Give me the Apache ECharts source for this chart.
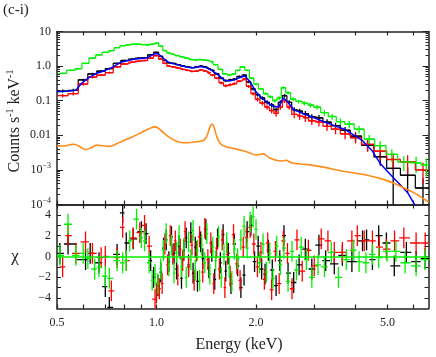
<!DOCTYPE html>
<html>
<head>
<meta charset="utf-8">
<script src="https://cdn.jsdelivr.net/npm/echarts@6/dist/echarts.min.js"></script>
<style>
html, body { margin: 0; padding: 0; background: #fff; }
#main { width: 436px; height: 357px; }
</style>
</head>
<body>
<div id="main"></div>
<script>
// bins shared by the black and red spectra (keV)
var binE = [0.52, 0.56, 0.60, 0.64, 0.68, 0.72, 0.76, 0.80, 0.84, 0.88,
    0.92, 0.96, 1.00, 1.03, 1.06, 1.09, 1.12, 1.16, 1.20, 1.24,
    1.28, 1.32, 1.36, 1.40, 1.44, 1.48, 1.52, 1.57, 1.62, 1.67,
    1.72, 1.78, 1.84, 1.90, 1.96, 2.02, 2.09, 2.16, 2.23, 2.30,
    2.37, 2.44, 2.52, 2.61, 2.71, 2.82, 2.95, 3.10, 3.28, 3.48,
    3.72, 4.00, 4.35, 4.75, 5.20, 5.75, 6.40];
var blackFlux = [0.19, 0.20, 0.40, 0.60, 0.72, 0.85, 1.2, 1.45, 1.6, 1.7,
    1.75, 2.1, 2.5, 1.9, 1.45, 1.25, 1.2, 1.1, 1.0, 0.95,
    0.9, 0.95, 1.0, 0.95, 0.85, 0.75, 0.6, 0.45, 0.38, 0.40,
    0.42, 0.50, 0.55, 0.35, 0.22, 0.15, 0.12, 0.09, 0.075, 0.055,
    0.09, 0.14, 0.09, 0.055, 0.05, 0.042, 0.034, 0.032, 0.024, 0.019,
    0.014, 0.0095, 0.0052, 0.0024, 0.0011, 0.0007, 0.0003];
var blackErr = [0.1, 0.1, 0.08, 0.07, 0.06, 0.06, 0.05, 0.05, 0.05, 0.05,
    0.05, 0.05, 0.04, 0.05, 0.05, 0.05, 0.05, 0.05, 0.05, 0.05,
    0.05, 0.05, 0.05, 0.05, 0.06, 0.06, 0.07, 0.08, 0.08, 0.08,
    0.08, 0.07, 0.07, 0.08, 0.1, 0.12, 0.12, 0.14, 0.15, 0.15,
    0.14, 0.12, 0.14, 0.18, 0.18, 0.2, 0.2, 0.2, 0.22, 0.22,
    0.25, 0.3, 0.35, 0.45, 1.0, 0.7, 0.9];
var redFlux = [0.14, 0.16, 0.30, 0.48, 0.55, 0.65, 0.95, 1.15, 1.3, 1.4,
    1.45, 1.7, 2.0, 1.6, 1.2, 1.0, 0.95, 0.88, 0.8, 0.75,
    0.7, 0.72, 0.78, 0.72, 0.65, 0.55, 0.45, 0.33, 0.27, 0.29,
    0.31, 0.37, 0.42, 0.26, 0.16, 0.11, 0.085, 0.065, 0.052, 0.043,
    0.065, 0.10, 0.065, 0.04, 0.036, 0.032, 0.026, 0.024, 0.018, 0.015,
    0.011, 0.0085, 0.0055, 0.0035, 0.0020, 0.0017, 0.0010];
var redErr = [0.12, 0.12, 0.1, 0.08, 0.07, 0.07, 0.06, 0.06, 0.06, 0.06,
    0.06, 0.05, 0.05, 0.06, 0.06, 0.06, 0.06, 0.06, 0.06, 0.06,
    0.06, 0.06, 0.06, 0.06, 0.07, 0.07, 0.08, 0.09, 0.1, 0.1,
    0.1, 0.08, 0.08, 0.1, 0.12, 0.14, 0.15, 0.16, 0.18, 0.2,
    0.16, 0.14, 0.16, 0.22, 0.22, 0.24, 0.24, 0.25, 0.26, 0.28,
    0.3, 0.32, 0.38, 0.45, 0.5, 0.55, 0.6];

var greenE = [0.52, 0.55, 0.58, 0.61, 0.64, 0.67, 0.70, 0.73, 0.76, 0.79,
    0.82, 0.85, 0.88, 0.91, 0.94, 0.97, 1.00, 1.03, 1.06, 1.09,
    1.12, 1.15, 1.19, 1.23, 1.27, 1.31, 1.35, 1.39, 1.43, 1.47,
    1.51, 1.56, 1.61, 1.66, 1.71, 1.76, 1.82, 1.88, 1.94, 2.00,
    2.07, 2.14, 2.21, 2.28, 2.35, 2.42, 2.50, 2.59, 2.69, 2.80,
    2.92, 3.06, 3.22, 3.40, 3.60, 3.83, 4.10, 4.40, 4.75, 5.15,
    5.60, 6.10, 6.55];
var greenFlux = [0.62, 0.75, 0.85, 1.2, 1.7, 2.1, 2.5, 2.8, 3.4, 3.9,
    4.1, 4.3, 4.3, 4.2, 4.1, 4.3, 4.6, 3.8, 2.8, 2.4,
    2.2, 2.0, 1.85, 1.7, 1.55, 1.5, 1.55, 1.5, 1.45, 1.35,
    1.1, 0.8, 0.6, 0.55, 0.6, 0.75, 0.95, 0.75, 0.45, 0.3,
    0.22, 0.16, 0.13, 0.10, 0.12, 0.24, 0.17, 0.11, 0.095, 0.085,
    0.075, 0.065, 0.045, 0.035, 0.025, 0.021, 0.015, 0.0078, 0.0050, 0.0028,
    0.0017, 0.0016, 0.0014];
var greenErr = [0.06, 0.06, 0.05, 0.05, 0.04, 0.04, 0.04, 0.03, 0.03, 0.03,
    0.03, 0.03, 0.03, 0.03, 0.03, 0.03, 0.03, 0.03, 0.03, 0.03,
    0.03, 0.03, 0.03, 0.03, 0.03, 0.03, 0.03, 0.03, 0.03, 0.04,
    0.04, 0.05, 0.05, 0.05, 0.05, 0.05, 0.05, 0.05, 0.06, 0.07,
    0.08, 0.09, 0.1, 0.12, 0.12, 0.09, 0.1, 0.12, 0.13, 0.14,
    0.15, 0.16, 0.18, 0.2, 0.22, 0.24, 0.26, 0.3, 0.35, 0.4,
    0.45, 0.5, 0.55];

// model curve (blue)
var blueE = [0.50, 0.54, 0.57, 0.59, 0.62, 0.66, 0.70, 0.74, 0.78, 0.82,
    0.86, 0.90, 0.94, 0.98, 1.01, 1.04, 1.08, 1.12, 1.18, 1.24,
    1.30, 1.36, 1.42, 1.48, 1.54, 1.60, 1.66, 1.72, 1.78, 1.85,
    1.92, 2.00, 2.08, 2.16, 2.25, 2.34, 2.42, 2.50, 2.60, 2.72,
    2.86, 3.00, 3.20, 3.45, 3.70, 4.00, 4.20, 4.50, 4.76, 5.00,
    5.20, 5.46, 5.75, 6.00, 6.25];
var blueFlux = [0.18, 0.19, 0.2, 0.3, 0.45, 0.62, 0.75, 0.95, 1.3, 1.45,
    1.6, 1.65, 1.75, 2.2, 2.3, 1.8, 1.35, 1.18, 1.05, 0.93,
    0.9, 0.98, 0.9, 0.72, 0.55, 0.4, 0.37, 0.4, 0.46, 0.52,
    0.35, 0.18, 0.12, 0.09, 0.07, 0.065, 0.12, 0.09, 0.055, 0.046,
    0.038, 0.032, 0.025, 0.019, 0.015, 0.0095, 0.007, 0.0035, 0.0015, 0.0009,
    0.0006, 0.00037, 0.00022, 0.00011, 0.00006];

// background component (orange)
var orangeE = [0.50, 0.53, 0.56, 0.58, 0.61, 0.63, 0.66, 0.69, 0.72, 0.76,
    0.80, 0.85, 0.90, 0.95, 0.99, 1.03, 1.08, 1.14, 1.20, 1.27,
    1.34, 1.39, 1.42, 1.45, 1.47, 1.49, 1.52, 1.56, 1.62, 1.70,
    1.80, 1.90, 2.00, 2.10, 2.20, 2.30, 2.38, 2.46, 2.56, 2.70,
    2.90, 3.20, 3.60, 4.00, 4.40, 4.80, 5.20, 5.60, 6.00, 6.40,
    6.65];
var orangeFlux = [0.0049, 0.005, 0.0055, 0.005, 0.0039, 0.0042, 0.0052, 0.005, 0.0048, 0.0058,
    0.0072, 0.0092, 0.012, 0.0155, 0.0175, 0.014, 0.0095, 0.007, 0.0061, 0.0062,
    0.0066, 0.0072, 0.0095, 0.017, 0.021, 0.018, 0.0095, 0.0058, 0.0047, 0.0042,
    0.0037, 0.0032, 0.0027, 0.0029, 0.0022, 0.0019, 0.0018, 0.0019, 0.0016, 0.0015,
    0.0014, 0.0012, 0.00095, 0.0008, 0.00068, 0.00055, 0.00042, 0.0003, 0.00022, 0.00015,
    0.00012];

// residuals [energy, chi]
var blackResid = [[0.51, 0.3], [0.54, 1.2], [0.61, -0.3], [0.63, 0.3], [0.67, -0.6], [0.70, -2.9],
    [0.72, -4.9], [0.76, 0.2], [0.79, 4.2], [0.81, 1.3], [0.85, 1.7], [0.90, 2.4], [0.93, 2.2],
    [0.96, -0.4], [0.98, -2.0], [1.01, -2.8], [1.03, -1.5], [1.05, 0.8], [1.07, 1.6], [1.09, -0.5],
    [1.11, 1.9], [1.13, 0.3], [1.15, -1.2], [1.17, 1.0], [1.19, -2.1], [1.21, 0.6], [1.23, 1.8],
    [1.25, -0.8], [1.27, 2.3], [1.29, -1.6], [1.31, 0.9], [1.33, -2.4], [1.36, 1.4], [1.38, -0.2],
    [1.41, 2.6], [1.44, -1.1], [1.47, 0.5], [1.50, -2.2], [1.53, 1.7], [1.56, -0.6], [1.59, 2.1],
    [1.62, -1.4], [1.65, 0.3], [1.68, -2.6], [1.72, 1.2], [1.76, -0.9], [1.80, -3.0], [1.84, -1.8],
    [1.88, 2.4], [1.93, 3.0], [1.98, -0.5], [2.03, 1.0], [2.08, -1.2], [2.13, -1.7], [2.18, 0.6],
    [2.24, -1.3], [2.30, -2.8], [2.36, -0.4], [2.43, 2.0], [2.50, -1.6], [2.60, -2.5], [2.70, -0.8],
    [2.82, 0.7], [2.95, -1.2], [3.10, 1.1], [3.25, -0.4], [3.45, -0.7], [3.65, 0.1], [3.90, -0.5],
    [4.20, 1.5], [4.32, 1.6], [4.50, -0.3], [4.70, 2.0], [4.96, 1.3], [5.24, -0.9], [5.70, 0.4],
    [6.10, -0.5], [6.50, -0.2]];
var redResid = [[0.52, -1.0], [0.54, 2.0], [0.57, 0.3], [0.61, 1.4], [0.64, 0.3], [0.68, -0.1],
    [0.70, 0.0], [0.73, -3.3], [0.76, -0.1], [0.79, 2.8], [0.81, -0.4], [0.85, 1.8], [0.89, 2.3],
    [0.92, 3.0], [0.95, 1.0], [0.99, -4.1], [1.00, -3.5], [1.02, -3.1], [1.04, -2.6], [1.06, 1.2],
    [1.08, -0.8], [1.10, 2.0], [1.12, 0.2], [1.14, 1.5], [1.16, -1.8], [1.18, 0.7], [1.20, -0.4],
    [1.22, 2.4], [1.25, -1.0], [1.28, 1.1], [1.30, -2.3], [1.32, 0.5], [1.35, 1.9], [1.38, -1.5],
    [1.40, 2.7], [1.43, -0.3], [1.46, 1.3], [1.49, -2.6], [1.52, 0.8], [1.55, -1.2], [1.58, 1.6],
    [1.61, -3.0], [1.64, 0.2], [1.67, -1.9], [1.71, 2.1], [1.75, -0.7], [1.79, -2.3], [1.83, 0.9],
    [1.87, 1.8], [1.92, 2.8], [1.97, 1.2], [2.02, -1.0], [2.07, 0.4], [2.12, -2.2], [2.17, 1.3],
    [2.23, -3.2], [2.29, 0.5], [2.35, -2.6], [2.42, 1.5], [2.49, 0.3], [2.57, -3.1], [2.66, 1.6],
    [2.76, -1.4], [2.88, 0.6], [3.00, -0.9], [3.15, 1.7], [3.30, 1.5], [3.45, 0.4], [3.65, 0.4],
    [3.90, 1.5], [4.05, 2.0], [4.25, 1.5], [4.50, 1.5], [4.72, 0.9], [4.96, 0.7], [5.25, 1.5],
    [5.60, 1.8], [6.10, 1.3], [6.50, 1.3]];
var greenResid = [[0.51, 0.1], [0.54, 3.1], [0.57, 0.1], [0.60, 0.3], [0.62, -0.2], [0.65, -1.2],
    [0.67, -1.0], [0.70, -1.9], [0.72, -2.1], [0.76, -0.4], [0.79, -0.6], [0.81, -0.4], [0.83, 1.5],
    [0.87, 3.6], [0.90, 1.8], [0.92, 1.5], [0.95, -0.6], [0.97, -2.3], [0.99, -1.7], [1.01, -2.6],
    [1.03, -1.2], [1.05, 0.6], [1.07, 2.2], [1.09, -0.9], [1.11, 1.1], [1.13, -1.6], [1.15, 0.4],
    [1.17, 2.0], [1.19, -1.0], [1.21, 0.8], [1.23, -2.0], [1.25, 1.4], [1.27, -0.3], [1.29, 2.5],
    [1.31, -1.3], [1.33, 0.6], [1.35, -2.3], [1.37, 1.1], [1.40, -0.6], [1.42, 2.2], [1.45, -1.7],
    [1.48, 0.9], [1.51, -0.4], [1.54, 1.9], [1.57, -2.0], [1.60, 0.2], [1.63, 1.3], [1.66, -1.1],
    [1.69, -2.4], [1.72, 0.7], [1.76, -0.2], [1.80, 1.6], [1.84, 2.9], [1.88, 0.8], [1.92, 3.3],
    [1.96, 3.8], [2.00, 2.6], [2.05, -0.6], [2.10, 1.2], [2.15, -1.5], [2.20, 0.3], [2.25, -2.1],
    [2.31, 1.0], [2.37, -0.8], [2.43, 0.8], [2.50, -2.4], [2.57, 0.5], [2.65, -1.3], [2.74, 0.9],
    [2.84, -0.3], [2.95, -2.0], [3.08, -0.8], [3.22, -1.0], [3.38, 0.4], [3.55, -2.0], [3.75, -0.3],
    [3.95, 0.6], [4.10, -0.5], [4.30, -0.6], [4.50, 0.2], [4.70, -0.1], [4.98, 0.5], [5.30, 0.5],
    [5.65, -0.6], [6.10, -0.9], [6.50, -0.3]];

var xTickValues = [0.5, 0.6, 0.7, 0.8, 0.9, 1, 2, 3, 4, 5, 6];
var xLabelValues = [0.5, 1, 2, 5];
var yLabelValues = [1e-4, 1e-3, 0.01, 0.1, 1, 10];
var chiTickValues = [-4, -3, -2, -1, 0, 1, 2, 3, 4];
var chiLabelValues = [-4, -2, 0, 2, 4];

var FONT = '"Liberation Serif", "DejaVu Serif", serif';
var INK = '#222';

var yMinorValues = [];
for (var d = -4; d < 1; d++) {
    for (var m = 2; m <= 9; m++) {
        yMinorValues.push(m * Math.pow(10, d));
    }
}

function binEdges(es) {
    var lo = [], hi = [];
    for (var i = 0; i < es.length; i++) {
        var prev = i > 0 ? es[i - 1] : es[i] * es[i] / es[i + 1];
        var next = i < es.length - 1 ? es[i + 1] : es[i] * es[i] / es[i - 1];
        lo.push(Math.sqrt(prev * es[i]));
        hi.push(Math.sqrt(next * es[i]));
    }
    return [lo, hi];
}

function fluxCrosses(es, vs, errs) {
    var ed = binEdges(es);
    var out = [];
    for (var i = 0; i < es.length; i++) {
        var lo = Math.max(vs[i] * (1 - errs[i]), 1e-6);
        out.push([es[i], vs[i], lo, vs[i] * (1 + errs[i]), ed[0][i], ed[1][i]]);
    }
    return out;
}

function residCrosses(pairs) {
    var es = pairs.map(function (p) { return p[0]; });
    var ed = binEdges(es);
    return pairs.map(function (p, i) {
        return [p[0], p[1], p[1] - 1, p[1] + 1, ed[0][i], ed[1][i]];
    });
}

function renderCross(params, api) {
    var e = api.value(0), v = api.value(1);
    var a = api.coord([api.value(4), v]);
    var b = api.coord([api.value(5), v]);
    var c = api.coord([e, api.value(3)]);
    var d = api.coord([e, api.value(2)]);
    var style = { stroke: api.visual('color'), lineWidth: 1.3 };
    return {
        type: 'group',
        children: [
            { type: 'line', shape: { x1: a[0], y1: a[1], x2: b[0], y2: b[1] }, style: style },
            { type: 'line', shape: { x1: c[0], y1: c[1], x2: d[0], y2: d[1] }, style: style }
        ]
    };
}

function pairs(es, vs) {
    return es.map(function (e, i) { return [e, vs[i]]; });
}

function xAxis(grid, pos, labels) {
    return {
        type: 'log', gridIndex: grid, position: pos, min: 0.5, max: 6.65,
        axisLine: { onZero: false, lineStyle: { color: INK, width: 1.5 } },
        axisTick: { inside: true, length: 4, customValues: xTickValues, lineStyle: { color: INK, width: 1.2 } },
        axisLabel: {
            show: labels, customValues: xLabelValues, margin: 8,
            fontFamily: FONT, fontSize: 12, color: INK,
            formatter: function (v) { return (+v).toFixed(1); }
        },
        splitLine: { show: false }
    };
}

function logYAxis(pos, ticks, len, labels) {
    return {
        type: 'log', gridIndex: 0, position: pos, min: 1e-4, max: 10,
        axisLine: { show: len > 3, onZero: false, lineStyle: { color: INK, width: 1.5 } },
        axisTick: { inside: true, length: len, customValues: ticks, lineStyle: { color: INK, width: 1 } },
        axisLabel: {
            show: labels, customValues: yLabelValues, margin: 6, color: INK,
            formatter: function (v) {
                var p = Math.round(Math.log(v) / Math.LN10);
                if (p <= -3) return '{b|10}{s|\u2212' + (-p) + '}';
                var txt = ['0.01', '0.1', '1.0', '10'][p + 2];
                return '{b|' + txt + '}';
            },
            rich: {
                b: { fontFamily: FONT, fontSize: 12, color: INK, lineHeight: 16 },
                s: { fontFamily: FONT, fontSize: 8, color: INK, lineHeight: 8, verticalAlign: 'top' }
            }
        },
        splitLine: { show: false }
    };
}

function chiAxis(pos, labels) {
    return {
        type: 'value', gridIndex: 1, position: pos, min: -5, max: 5,
        axisLine: { onZero: false, lineStyle: { color: INK, width: 1.5 } },
        axisTick: { inside: true, length: 4, customValues: chiTickValues, lineStyle: { color: INK, width: 1 } },
        axisLabel: {
            show: labels, customValues: chiLabelValues, margin: 6,
            fontFamily: FONT, fontSize: 12, color: INK,
            formatter: function (v) { return v < 0 ? '\u2212' + (-v) : '' + v; }
        },
        splitLine: { show: false }
    };
}

function crossSeries(name, color, data, xi, yi) {
    return {
        name: name, type: 'custom', xAxisIndex: xi, yAxisIndex: yi,
        renderItem: renderCross, data: data, clip: true,
        encode: { x: 0, y: 1 }, itemStyle: { color: color }
    };
}

function stepSeries(name, color, data) {
    return {
        name: name, type: 'line', xAxisIndex: 0, yAxisIndex: 0, step: 'middle',
        data: data, showSymbol: false, lineStyle: { color: color, width: 1.2 }
    };
}

var myChart = echarts.init(document.getElementById('main'), null, { renderer: 'canvas' });
var option = {
    animation: false,
    backgroundColor: '#fff',
    grid: [
        { left: 57, top: 31.5, width: 371.5, height: 173 },
        { left: 57, top: 204.5, width: 371.5, height: 104 }
    ],
    xAxis: [xAxis(0, 'bottom', false), xAxis(0, 'top', false), xAxis(1, 'bottom', true), xAxis(1, 'top', false)],
    yAxis: [
        logYAxis('left', yLabelValues, 6, true),
        logYAxis('left', yMinorValues, 3, false),
        logYAxis('right', yLabelValues, 6, false),
        logYAxis('right', yMinorValues, 3, false),
        chiAxis('left', true),
        chiAxis('right', false)
    ],
    graphic: [
        { type: 'text', x: 3, y: 3, style: { text: '(c-i)', font: '15px ' + FONT, fill: INK } },
        {
            type: 'text', x: 15, y: 121, rotation: Math.PI / 2,
            style: {
                text: '{b|Counts s}{s|-1}{b| keV}{s|-1}', align: 'center', verticalAlign: 'middle',
                rich: {
                    b: { font: '16px ' + FONT, fill: INK, lineHeight: 20 },
                    s: { font: '10px ' + FONT, fill: INK, lineHeight: 10, verticalAlign: 'top' }
                }
            }
        },
        { type: 'text', x: 15, y: 257, style: { text: '\u03c7', font: '17px ' + FONT, fill: INK, align: 'center', verticalAlign: 'middle' } },
        { type: 'text', x: 239, y: 345, style: { text: 'Energy (keV)', font: '16px ' + FONT, fill: INK, align: 'center', verticalAlign: 'middle' } }
    ],
    series: [
        stepSeries('black', '#000', pairs(binE, blackFlux)),
        crossSeries('black', '#000', fluxCrosses(binE, blackFlux, blackErr), 0, 0),
        stepSeries('red', '#ff0000', pairs(binE, redFlux)),
        crossSeries('red', '#ff0000', fluxCrosses(binE, redFlux, redErr), 0, 0),
        stepSeries('green', '#00f000', pairs(greenE, greenFlux)),
        crossSeries('green', '#00f000', fluxCrosses(greenE, greenFlux, greenErr), 0, 0),
        {
            name: 'model', type: 'line', xAxisIndex: 0, yAxisIndex: 0, data: pairs(blueE, blueFlux),
            showSymbol: false, lineStyle: { color: '#0000ff', width: 1.5 }
        },
        {
            name: 'bgd', type: 'line', xAxisIndex: 0, yAxisIndex: 0, data: pairs(orangeE, orangeFlux),
            smooth: 0.4, showSymbol: false, lineStyle: { color: '#ff8c1a', width: 1.6 }
        },
        crossSeries('black', '#000', residCrosses(blackResid), 2, 4),
        crossSeries('red', '#ff0000', residCrosses(redResid), 2, 4),
        crossSeries('green', '#00f000', residCrosses(greenResid), 2, 4),
        {
            name: 'zero', type: 'line', xAxisIndex: 2, yAxisIndex: 4, data: [],
            markLine: {
                silent: true, symbol: 'none', label: { show: false },
                lineStyle: { color: '#00f000', width: 1.5, type: 'solid' },
                data: [{ yAxis: 0 }]
            }
        }
    ]
};
myChart.setOption(option);
</script>
</body>
</html>
